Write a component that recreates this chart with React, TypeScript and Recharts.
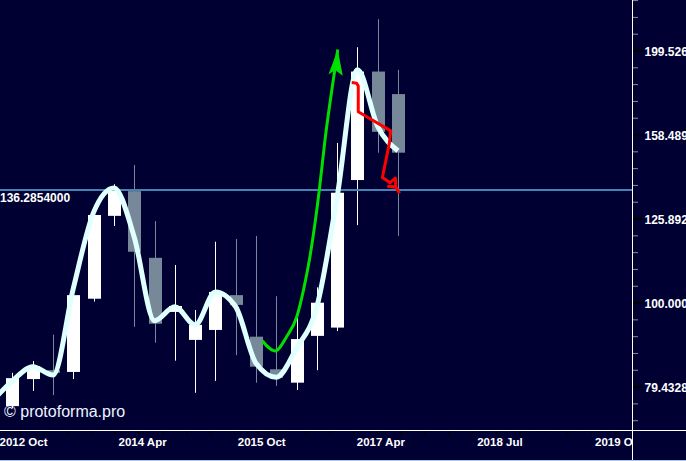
import React from 'react';
import { ComposedChart, Bar, Line, XAxis, YAxis, ReferenceLine } from 'recharts';

// ---- candle data (quarterly bars, index 0..19) ----
const barIndex = [0, 1, 2, 3, 4, 5, 6, 7, 8, 9, 10, 11, 12, 13, 14, 15, 16, 17, 18, 19];
const opens = [75.4, 81.2, 83.2, 82.8, 101.2, 127.0, 135.9, 113.2, 97.6, 90.4, 92.9, 102.2, 91.2, 83.4, 80.4, 91.4, 93.5, 140.1, 188.6, 177.3];
const highs = [82.6, 85.3, 91.7, 102.4, 127.3, 138.5, 146.0, 125.2, 111.0, 98.1, 118.3, 119.2, 120.2, 101.9, 96.1, 104.4, 155.1, 201.6, 217.7, 189.5];
const lows = [75.0, 78.6, 77.7, 81.2, 100.4, 123.5, 93.7, 89.7, 85.4, 78.2, 80.8, 86.7, 80.4, 79.7, 78.8, 83.2, 92.6, 123.8, 151.0, 120.2];
const closes = [81.4, 84.1, 82.6, 102.2, 127.3, 136.3, 115.1, 94.5, 99.2, 94.2, 103.1, 99.5, 84.0, 81.5, 90.6, 100.1, 135.3, 188.6, 159.9, 151.0];

// ---- smoothed curve (index -1..19) ----
const curveIndex = [-1, 0, 1, 2, 3, 4, 5, 6, 7, 8, 9, 10, 11, 12, 13, 14, 15, 16, 17, 18, 19];
const curveValues = [76.4, 80.8, 84.0, 82.1, 104.2, 128.3, 137.1, 119.8, 95.3, 99.0, 94.2, 103.1, 99.0, 84.8, 81.6, 88.4, 99.0, 133.8, 189.5, 162.2, 151.8];

// ---- green projection ----
const greenX = [12.31, 12.94, 13.51, 14.01, 14.34, 14.63, 15.12, 15.40, 15.86, 16.03];
const greenY = [90.2, 87.7, 91.2, 96.3, 103.6, 112.5, 136.3, 156.3, 187.9, 200.4];

// ---- red projection ----
const redX = [16.72, 16.96, 17.04, 17.04, 18.64, 18.57, 18.23, 18.61, 18.87, 18.89, 18.52, 18.89, 19.08];
const redY = [183.0, 182.7, 181.3, 168.9, 160.3, 154.9, 141.1, 139.1, 140.8, 137.6, 137.6, 137.4, 135.1];

// ---- level ----
const levelValue = 136.2854;
const levelLabel = '136.2854000';

// ---- axes ----
const xTickLabels = ['2012 Oct', '2014 Apr', '2015 Oct', '2017 Apr', '2018 Jul', '2019 Oct'];
const xTickStart = 0.3696;
const xTickStep = 1.174;
const xTickCount = 26;
const xDomain = [-0.616, 30.58];

const yTicks = [72.44, 75.86, 79.43282, 83.18, 87.10, 91.20, 95.50, 100.0, 104.71, 109.65, 114.82, 120.23, 125.8925, 131.83, 138.04, 144.54, 151.36, 158.4893, 165.96, 173.78, 181.97, 190.55, 199.5262, 208.93, 218.78, 229.09];
const yMajorTicks = [79.43282, 100.0, 125.8925, 158.4893, 199.5262];
const yTickLabels = ['79.43282', '100.0000', '125.8925', '158.4893', '199.5262'];
const yDomain = [70.62, 229.46];

const BG = '#000033';
const UP = '#ffffff';
const DOWN = '#778899';
const BODY_W = 13;
const FONT = '"Liberation Sans", Arial, sans-serif';

const xTicks = Array.from({ length: xTickCount }, (_, k) => +(xTickStart + k * xTickStep).toFixed(4));

const rows = curveIndex.map((ci, i) => {
  const bi = barIndex.indexOf(ci);
  return {
    x: ci,
    curve: curveValues[i],
    open: bi >= 0 ? opens[bi] : null,
    high: bi >= 0 ? highs[bi] : null,
    low: bi >= 0 ? lows[bi] : null,
    close: bi >= 0 ? closes[bi] : null,
  };
});

const greenData = greenX.map((x, i) => ({ x, g: greenY[i] }));
const redData = redX.map((x, i) => ({ x, r: redY[i] }));

const Candle = (props: any) => {
  const { x, y, width, height, payload } = props;
  if (!payload || payload.high == null || !isFinite(y) || !isFinite(height)) return null;
  const { open, high, low, close } = payload;
  const lh = Math.log(high);
  const ll = Math.log(low);
  const py = (v: number) => y + (height * (lh - Math.log(v))) / (lh - ll);
  const up = close >= open;
  const color = up ? UP : DOWN;
  const center = x + (width || 0) / 2;
  const cx = Math.round(center) + 0.5;
  const top = py(Math.max(open, close));
  const bot = py(Math.min(open, close));
  return (
    <g>
      <line x1={cx} x2={cx} y1={y} y2={y + height} stroke={color} strokeWidth={1} />
      <rect x={cx - BODY_W / 2} y={top} width={BODY_W} height={Math.max(1.5, bot - top)} fill={color} />
    </g>
  );
};

const YTick = (props: any) => {
  const { x, y, payload } = props;
  const v = payload.value;
  const mi = yMajorTicks.findIndex((m) => Math.abs(m - v) < 1e-6);
  if (mi >= 0) {
    return (
      <g>
        <line x1={x} x2={x + 10} y1={y} y2={y} stroke="#000000" strokeWidth={2} />
        <text x={x + 11.5} y={y + 4.5} fill="#ffffff" fontSize={12} fontWeight="bold" fontFamily={FONT}>
          {yTickLabels[mi]}
        </text>
      </g>
    );
  }
  return <line x1={x} x2={x + 5} y1={y} y2={y} stroke="#8a8a9a" strokeWidth={1} />;
};

const XTick = (props: any) => {
  const { x, y, index } = props;
  const isLabel = index % 5 === 0;
  return (
    <g>
      <line x1={x} x2={x} y1={y + 1} y2={y + 4.5} stroke="#000000" strokeWidth={1.5} />
      {isLabel && (
        <text x={x + 3.5} y={y + 16} textAnchor="middle" fill="#ffffff" fontSize={11.5} fontWeight="bold" fontFamily={FONT}>
          {xTickLabels[index / 5]}
        </text>
      )}
    </g>
  );
};

const LevelLabel = (props: any) => {
  const vb = props.viewBox || {};
  return (
    <text x={(vb.x || 0) + 0} y={(vb.y || 0) + 11.5} fill="#ffffff" fontSize={12} fontWeight="bold" fontFamily={FONT}>
      {levelLabel}
    </text>
  );
};

const GreenHead = (props: any) => {
  const { cx, cy, index } = props;
  if (index !== greenData.length - 1) return <g key={`g${index}`} />;
  const pts = [
    [cx, cy],
    [cx - 9.3, cy + 25],
    [cx - 2.7, cy + 20.7],
    [cx + 5, cy + 26.3],
  ]
    .map((p) => p.join(','))
    .join(' ');
  return <polygon key={`g${index}`} points={pts} fill="#00e000" />;
};

export default function App() {
  return (
    <div style={{ position: 'absolute', left: 0, top: 0, width: 686, height: 461, background: BG, overflow: 'hidden' }}>
      <ComposedChart width={686} height={461} data={rows} margin={{ top: 0, right: 0, bottom: 0, left: 0 }}>
        <XAxis
          dataKey="x"
          type="number"
          domain={xDomain}
          allowDataOverflow
          ticks={xTicks}
          interval={0}
          tick={<XTick />}
          tickSize={0}
          tickMargin={0}
          axisLine={false}
          tickLine={false}
          height={31}
        />
        <YAxis
          orientation="right"
          type="number"
          scale="log"
          domain={yDomain}
          allowDataOverflow
          ticks={yTicks}
          interval={0}
          tick={<YTick />}
          tickSize={0}
          tickMargin={0}
          axisLine={false}
          tickLine={false}
          width={53}
        />
        <Bar
          dataKey={(d: any) => (d.high != null ? [d.low, d.high] : null)}
          barSize={13}
          shape={<Candle />}
          isAnimationActive={false}
        />
        <ReferenceLine y={levelValue} stroke="#4682b4" strokeWidth={2} label={<LevelLabel />} />
        <Line
          dataKey="curve"
          type="monotone"
          stroke="#e0ffff"
          strokeWidth={5}
          dot={false}
          activeDot={false}
          isAnimationActive={false}
        />
        <Line
          data={greenData}
          dataKey="g"
          type="monotone"
          stroke="#00e000"
          strokeWidth={3}
          dot={<GreenHead />}
          activeDot={false}
          isAnimationActive={false}
        />
        <Line
          data={redData}
          dataKey="r"
          type="linear"
          stroke="#ff0000"
          strokeWidth={3}
          strokeLinejoin="round"
          dot={false}
          activeDot={false}
          isAnimationActive={false}
        />
      </ComposedChart>
      <div style={{ position: 'absolute', left: 633, top: 431, width: 53, height: 29, background: BG }} />
      <div style={{ position: 'absolute', left: 0, top: 430, width: 686, height: 1, background: '#ffffff' }} />
      <div style={{ position: 'absolute', left: 632, top: 0, width: 1, height: 461, background: '#ffffff' }} />
      <div style={{ position: 'absolute', left: 0, top: 460, width: 686, height: 1, background: '#a6c8ea' }} />
      <div
        style={{
          position: 'absolute',
          left: 4,
          top: 404,
          fontFamily: FONT,
          fontSize: 16,
          lineHeight: '16px',
          color: '#eef4ff',
          whiteSpace: 'nowrap',
        }}
      >
        © protoforma.pro
      </div>
    </div>
  );
}
